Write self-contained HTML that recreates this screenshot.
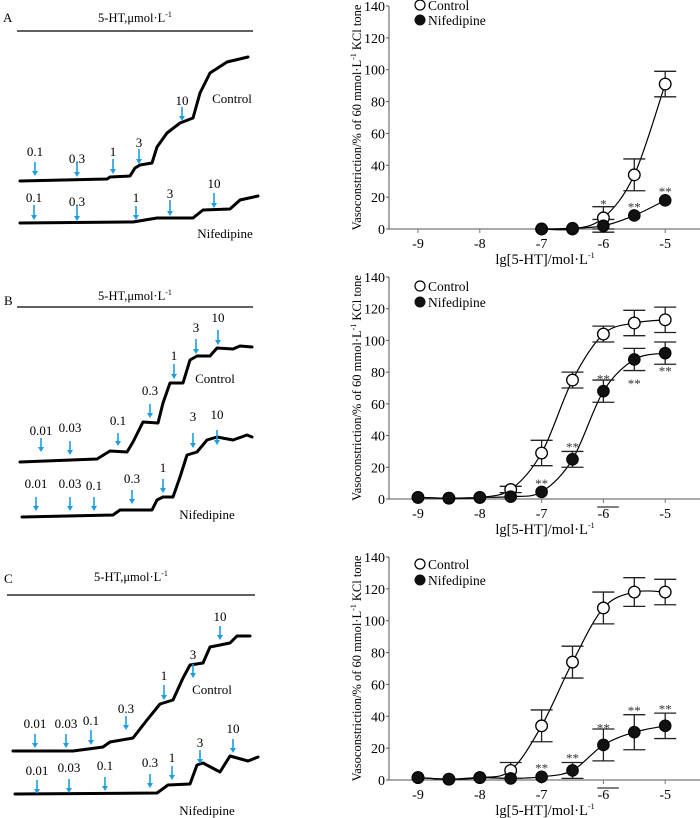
<!DOCTYPE html>
<html><head><meta charset="utf-8">
<style>
html,body{margin:0;padding:0;background:#fff;}
svg{display:block;font-family:"Liberation Serif",serif;}
</style></head>
<body>
<svg id="fig" width="700" height="818" viewBox="0 0 700 818" xmlns="http://www.w3.org/2000/svg">
<g id="traces"></g>
<g id="charts"></g>
</svg>
<script>
const NS = "http://www.w3.org/2000/svg";
function mk(tag, attrs, parent, txt){
  const e = document.createElementNS(NS, tag);
  for (const k in attrs) e.setAttribute(k, attrs[k]);
  if (txt !== undefined) e.textContent = txt;
  parent.appendChild(e);
  return e;
}

/* ---------- left panels: recorded traces ---------- */
const panelLetters = ["A","B","C"];
const panelLetterPos = [[3,22],[4,305],[4,583]];
const titleY = [22,300,581];
const lineY = [31,307,595];
const lineX = [[17,253],[17,253],[7,255]];
const traceControl = [
 [[20,181],[107,179],[110,177],[130,176],[135,168],[140,165],[152,163],[157,147],[167,133],[180,123],[193,118],[200,93],[210,73],[227,62],[248,57]],
 [[20,462],[97,459],[110,451],[127,452],[133,442],[143,422],[158,423],[163,403],[170,383],[183,383],[190,360],[197,356],[210,356],[217,348],[233,349],[240,346],[252,347]],
 [[13,751],[73,751],[103,747],[110,742],[133,738],[147,720],[160,704],[173,700],[183,678],[190,665],[203,663],[210,647],[230,643],[237,636],[250,636]]
];
const traceNife = [
 [[20,223],[133,222],[157,218],[193,218],[203,210],[230,209],[240,200],[258,196]],
 [[22,517],[113,515],[120,510],[152,510],[157,500],[163,497],[173,497],[180,477],[187,455],[197,452],[207,440],[217,437],[233,440],[247,435],[252,437]],
 [[15,794],[157,793],[168,785],[190,784],[197,765],[203,763],[220,772],[230,756],[248,761],[258,757]]
];
/* arrows: [label, x, labelY, arrowTop, arrowBottom] */
const arrowsControl = [
 [["0.1",35,156,162,176],["0.3",77,163,163,177],["1",113,156,159,174],["3",139,147,149,164],["10",182,105,107,121]],
 [["0.01",41,435,438,452],["0.03",70,432,441,455],["0.1",118,425,433,446],["0.3",150,395,404,418],["1",174,360,364,379],["3",196,332,339,354],["10",218,322,330,345]],
 [["0.01",35,728,734,748],["0.03",66,728,734,748],["0.1",91,725,730,745],["0.3",126,713,716,730],["1",164,680,685,700],["3",193,659,664,678],["10",220,621,626,640]]
];
const arrowsNife = [
 [["0.1",34,202,205,220],["0.3",77,206,206,221],["1",136,202,206,220],["3",170,198,200,216],["10",214,188,193,208]],
 [["0.01",36,488,497,511],["0.03",70,488,497,511],["0.1",94,490,497,511],["0.3",132,483,490,504],["1",163,472,479,493],["3",193,421,433,448],["10",217,419,430,445]],
 [["0.01",37,775,780,794],["0.03",69,772,779,793],["0.1",105,770,777,791],["0.3",150,767,774,788],["1",172,762,766,780],["3",200,747,750,764],["10",233,733,739,753]]
];
const controlLabelPos = [[232,103],[215,383],[212,694]];
const nifeLabelPos = [[225,238],[207,519],[207,815]];

const TR = document.getElementById('traces');
function path(pts){return "M"+pts.map(p=>p[0]+","+p[1]).join(" L");}
function drawArrows(list, g){
  list.forEach(a=>{
    const lab = mk('text',{x:a[1],y:a[2],'text-anchor':'middle','font-size':'13',fill:'#000'},g,a[0]);
    
    
    const ln = mk('line',{x1:a[1],y1:a[3],x2:a[1],y2:a[4]-4,stroke:'#1a9fe0','stroke-width':1.6},g);
    
    
    const hd = mk('polygon',{points:(a[1]-3)+","+(a[4]-5)+" "+(a[1]+3)+","+(a[4]-5)+" "+a[1]+","+a[4],fill:'#1a9fe0'},g);
    
    
  });
}
for (let i=0;i<3;i++){
  const g = mk('g',{},TR);
  
  
  const L = mk('text',{x:panelLetterPos[i][0],y:panelLetterPos[i][1],'font-size':'13'},g,panelLetters[i]);
  
  
  const t = mk('text',{x:(lineX[i][0]+lineX[i][1])/2,y:titleY[i],'text-anchor':'middle','font-size':'12.5'},g);
  
  
  t.appendChild(document.createTextNode("5-HT,μmol·L"));
  mk('tspan',{dy:'-5','font-size':'8'},t,"-1");
  const hl = mk('line',{x1:lineX[i][0],x2:lineX[i][1],y1:lineY[i],y2:lineY[i],stroke:'#000','stroke-width':1.2},g);
  
  
  const pc = mk('path',{d:path(traceControl[i]),fill:'none',stroke:'#000','stroke-width':3,'stroke-linejoin':'round','stroke-linecap':'round'},g);
  
  
  const pn = mk('path',{d:path(traceNife[i]),fill:'none',stroke:'#000','stroke-width':3,'stroke-linejoin':'round','stroke-linecap':'round'},g);
  
  
  drawArrows(arrowsControl[i], g);
  drawArrows(arrowsNife[i], g);
  const cl = mk('text',{x:controlLabelPos[i][0],y:controlLabelPos[i][1],'text-anchor':'middle','font-size':'13'},g,"Control");
  
  
  const nl = mk('text',{x:nifeLabelPos[i][0],y:nifeLabelPos[i][1],'text-anchor':'middle','font-size':'13'},g,"Nifedipine");
  
  
}

/* ---------- right panels: dose-response charts ---------- */
const xTicks = [-9,-8,-7,-6,-5];
const yTicks = [0,20,40,60,80,100,120,140];
const xA = [-7,-6.5,-6,-5.5,-5];
const ctrlA = [0,0,7,34,91];
const ctrlErrA = [0,0,7,10,8];
const nifeA = [0,0.5,2,8.5,18];
const nifeErrA = [0,0,4,0,0];
const starsA = [["*",-6,16],["**",-5.5,14],["**",-5,24]];

const xB = [-9,-8.5,-8,-7.5,-7,-6.5,-6,-5.5,-5];
const ctrlB = [1,0.5,1,6,29,75,104,111,113];
const ctrlErrB = [0,0,0,2,8,5,5,8,8];
const nifeB = [1,0.5,1,1.5,4.5,25,68,88,92];
const nifeErrB = [0,0,0,0,0,5,7,7,7];
const starsB = [["**",-7,10],["**",-6.5,33],["**",-6,76],["**",-5.5,73],["**",-5,81]];

const xC = [-9,-8.5,-8,-7.5,-7,-6.5,-6,-5.5,-5];
const ctrlC = [1.5,0.5,1.5,6,34,74,108,118,118];
const ctrlErrC = [0,0,0,5,10,10,10,9,8];
const nifeC = [1.5,0.5,1.5,1,2,6,22,30,34];
const nifeErrC = [0,0,0,0,0,5,10,11,8];
const starsC = [["**",-7,8],["**",-6.5,14],["**",-6,33],["**",-5.5,44],["**",-5,45]];

const chartDefs = [
 {name:'chart-a', y0:229, y140:6, legY:[5,20], x:xA, c:ctrlA, ce:ctrlErrA, n:nifeA, ne:nifeErrA, stars:starsA, dash:false},
 {name:'chart-b', y0:499, y140:277, legY:[286,302], x:xB, c:ctrlB, ce:ctrlErrB, n:nifeB, ne:nifeErrB, stars:starsB, dash:true},
 {name:'chart-c', y0:780, y140:557, legY:[564,580], x:xC, c:ctrlC, ce:ctrlErrC, n:nifeC, ne:nifeErrC, stars:starsC, dash:true}
];
const CH = document.getElementById('charts');
const axX = 389;
function sx(v){ return 418 + (v+9)*61.8; }

function spline(pts){
  let d = "M"+pts[0][0]+","+pts[0][1];
  for (let i=0;i<pts.length-1;i++){
    const p0=pts[Math.max(0,i-1)], p1=pts[i], p2=pts[i+1], p3=pts[Math.min(pts.length-1,i+2)];
    const c1=[p1[0]+(p2[0]-p0[0])/6, p1[1]+(p2[1]-p0[1])/6];
    const c2=[p2[0]-(p3[0]-p1[0])/6, p2[1]-(p3[1]-p1[1])/6];
    d += " C"+c1[0]+","+c1[1]+" "+c2[0]+","+c2[1]+" "+p2[0]+","+p2[1];
  }
  return d;
}

chartDefs.forEach(cd=>{
  const sy = v => cd.y0 + (cd.y140-cd.y0)*v/140;
  const g = mk('g',{},CH);
  
  
  const ya = mk('line',{x1:axX,x2:axX,y1:cd.y140,y2:cd.y0,stroke:'#555','stroke-width':1},g);
  
  
  const xa = mk('line',{x1:axX,x2:700,y1:cd.y0,y2:cd.y0,stroke:'#555','stroke-width':1},g);
  
  
  yTicks.forEach(t=>{
    const tk = mk('line',{x1:axX-3,x2:axX,y1:sy(t),y2:sy(t),stroke:'#555'},g);
    
    
    const tl = mk('text',{x:axX-4,y:sy(t)+5,'text-anchor':'end','font-size':'14'},g,String(t));
    
    
  });
  xTicks.forEach(t=>{
    const tk = mk('line',{x1:sx(t),x2:sx(t),y1:cd.y0,y2:cd.y0+4,stroke:'#777'},g);
    
    
    const tl = mk('text',{x:sx(t),y:cd.y0+19,'text-anchor':'middle','font-size':'14'},g,String(t));
    
    
  });
  if (cd.dash){
    const m = mk('line',{x1:sx(-6.1),x2:sx(-5.75),y1:cd.y0+8,y2:cd.y0+8,stroke:'#000'},g);
    
    
  }
  const xt = mk('text',{x:545,y:cd.y0+35,'text-anchor':'middle','font-size':'14.5'},g);
  
  
  xt.appendChild(document.createTextNode("lg[5-HT]/mol·L"));
  mk('tspan',{dy:'-6','font-size':'8'},xt,"-1");
  const ymid = (cd.y0+cd.y140)/2;
  const yt = mk('text',{x:0,y:0,'text-anchor':'middle','font-size':'12.5',transform:'translate(361,'+ymid+') rotate(-90)'},g);
  
  
  yt.appendChild(document.createTextNode("Vasoconstriction/% of 60 mmol·L"));
  mk('tspan',{dy:'-5','font-size':'8'},yt,"-1");
  mk('tspan',{dy:'5'},yt," KCl tone");
  const cp = mk('path',{d:spline(cd.x.map((v,i)=>[sx(v),sy(cd.c[i])])),fill:'none',stroke:'#000','stroke-width':1.2},g);
  
  
  const np = mk('path',{d:spline(cd.x.map((v,i)=>[sx(v),sy(cd.n[i])])),fill:'none',stroke:'#000','stroke-width':1.2},g);
  
  
  function errs(vals, es, nm){
    cd.x.forEach((v,i)=>{
      if (!es[i]) return;
      const X=sx(v), t=sy(vals[i]+es[i]), b=sy(vals[i]-es[i]);
      const e = mk('path',{d:"M"+X+","+t+" V"+b+" M"+(X-11)+","+t+" H"+(X+11)+" M"+(X-11)+","+b+" H"+(X+11),stroke:'#222','stroke-width':1.3,fill:'none'},g);
      
      
    });
  }
  errs(cd.c, cd.ce, 'control-error-bar');
  errs(cd.n, cd.ne, 'nifedipine-error-bar');
  cd.x.forEach((v,i)=>{
    const p = mk('circle',{cx:sx(v),cy:sy(cd.c[i]),r:5.8,fill:'#fff',stroke:'#000','stroke-width':1.3},g);
    
    
  });
  cd.x.forEach((v,i)=>{
    const p = mk('circle',{cx:sx(v),cy:sy(cd.n[i]),r:5.8,fill:'#111',stroke:'#000','stroke-width':1},g);
    
    
  });
  cd.stars.forEach(s=>{
    const st = mk('text',{x:sx(s[1]),y:sy(s[2])+5,'text-anchor':'middle','font-size':'13',fill:'#333'},g,s[0]);
    
    
  });
  const lg = mk('g',{},g);
  
  
  const lc = mk('circle',{cx:420,cy:cd.legY[0],r:5,fill:'#fff',stroke:'#000','stroke-width':1.2},lg);
  
  
  const lct = mk('text',{x:428,y:cd.legY[0]+5,'font-size':'13.5'},lg,"Control");
  
  
  const ln = mk('circle',{cx:420,cy:cd.legY[1],r:5.5,fill:'#111'},lg);
  
  
  const lnt = mk('text',{x:428,y:cd.legY[1]+5,'font-size':'13.5'},lg,"Nifedipine");
  
  
});
</script>
</body></html>
